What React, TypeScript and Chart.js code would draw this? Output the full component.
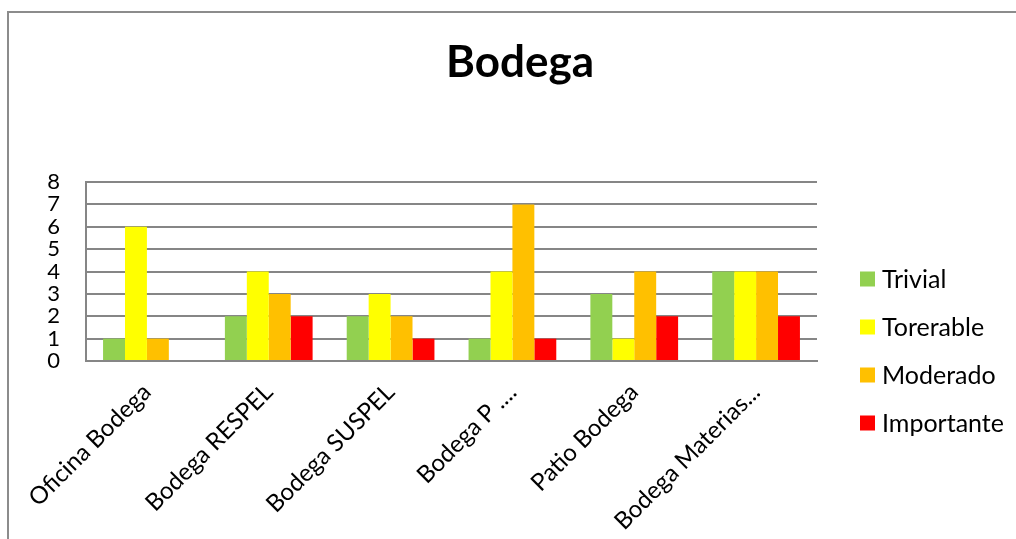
import React, { useEffect, useRef } from "react";
import { Chart, registerables } from "chart.js";

Chart.register(...registerables);

const categories = [
  "Oficina Bodega",
  "Bodega RESPEL",
  "Bodega SUSPEL",
  "Bodega P ....",
  "Patio Bodega",
  "Bodega Materias...",
];
const seriesNames = ["Trivial", "Torerable", "Moderado", "Importante"];
const trivial = [1, 2, 2, 1, 3, 4];
const torerable = [6, 4, 3, 4, 1, 4];
const moderado = [1, 3, 2, 7, 4, 4];
const importante = [0, 2, 1, 1, 2, 2];
const seriesColors = ["#92D050", "#FFFF00", "#FFC000", "#FF0000"];
const yMin = 0;
const yMax = 8;
const yStep = 1;
const chartTitle = "Bodega";

const FONT = "Lato, 'Noto Sans', sans-serif";

const legendPlugin = {
  id: "customLegend",
  afterDraw(chart: any) {
    const ctx = chart.ctx;
    ctx.save();
    ctx.font = `25px ${FONT}`;
    ctx.textBaseline = "middle";
    ctx.textAlign = "left";
    chart.data.datasets.forEach((ds: any, i: number) => {
      const cy = 279 + i * 48;
      ctx.fillStyle = ds.backgroundColor;
      ctx.fillRect(860, cy - 7.5, 15, 15);
      ctx.fillStyle = "#000";
      ctx.fillText(ds.label, 882, cy + 1);
    });
    ctx.restore();
  },
};

export default function App() {
  const ref = useRef<HTMLCanvasElement | null>(null);
  useEffect(() => {
    if (!ref.current) return;
    const values = [trivial, torerable, moderado, importante];
    const chart = new Chart(ref.current, {
      type: "bar",
      data: {
        labels: categories,
        datasets: seriesNames.map((n, i) => ({
          label: n,
          data: values[i],
          backgroundColor: seriesColors[i],
          borderWidth: 0,
          categoryPercentage: 0.72,
          barPercentage: 1,
        })),
      },
      options: {
        animation: false,
        responsive: false,
        maintainAspectRatio: false,
        layout: { padding: 0 },
        plugins: {
          legend: { display: false },
          tooltip: { enabled: false },
          title: {
            display: true,
            text: chartTitle,
            color: "#000",
            font: { family: FONT, size: 44, weight: "bold" },
            padding: { top: 36, bottom: 93.2 },
          },
        },
        scales: {
          x: {
            grid: { display: false, drawTicks: false },
            border: { display: true, color: "#868686", width: 2 },
            ticks: {
              color: "#000",
              font: { family: FONT, size: 24 },
              maxRotation: 45,
              minRotation: 45,
              autoSkip: false,
              padding: 17,
            },
            afterFit: (s: any) => {
              s.height = 178;
            },
          },
          y: {
            min: yMin,
            max: yMax,
            grid: { color: "#868686", lineWidth: 2, drawTicks: false },
            border: { display: true, color: "#868686", width: 2 },
            ticks: {
              stepSize: yStep,
              autoSkip: false,
              color: "#000",
              font: { family: FONT, size: 22 },
              padding: 26,
            },
            afterFit: (s: any) => {
              s.width = 86;
            },
          },
          yRight: {
            position: "right",
            display: true,
            grid: { display: false, drawTicks: false },
            border: { display: false },
            ticks: { display: false },
            afterFit: (s: any) => {
              s.width = 223;
            },
          },
        },
      },
      plugins: [legendPlugin],
    });
    return () => chart.destroy();
  }, []);
  return (
    <div
      style={{
        position: "absolute",
        left: 0,
        top: 0,
        width: 1016,
        height: 539,
        overflow: "hidden",
        background: "#fff",
      }}
    >
      <div
        style={{
          position: "absolute",
          left: 7,
          top: 11,
          width: 1009,
          height: 2,
          background: "#8c8c8c",
        }}
      />
      <div
        style={{
          position: "absolute",
          left: 7,
          top: 11,
          width: 2,
          height: 528,
          background: "#8c8c8c",
        }}
      />
      <canvas
        ref={ref}
        width={1040}
        height={539}
        style={{ position: "absolute", left: 0, top: 0, width: 1040, height: 539 }}
      />
    </div>
  );
}
